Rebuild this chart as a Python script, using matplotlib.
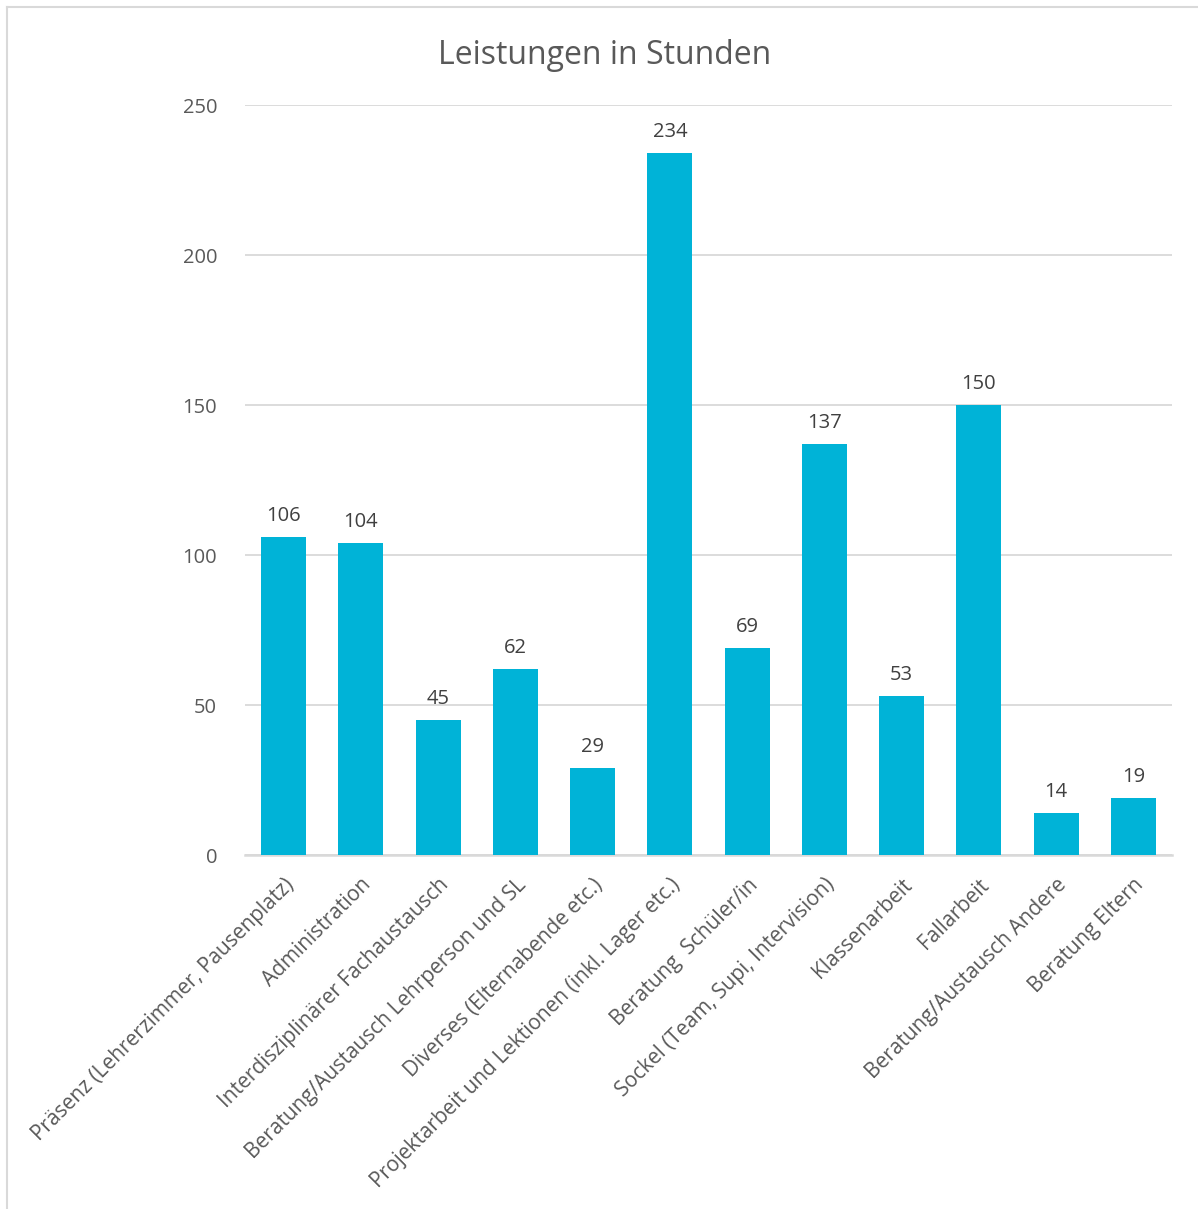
import matplotlib.pyplot as plt
from matplotlib.lines import Line2D
import numpy as np

plt.rcParams['font.family'] = ['Open Sans', 'DejaVu Sans']

categories = [
    "Präsenz (Lehrerzimmer, Pausenplatz)",
    "Administration",
    "Interdisziplinärer Fachaustausch",
    "Beratung/Austausch Lehrperson und SL",
    "Diverses (Elternabende etc.)",
    "Projektarbeit und Lektionen (inkl. Lager etc.)",
    "Beratung  Schüler/in",
    "Sockel (Team, Supi, Intervision)",
    "Klassenarbeit",
    "Fallarbeit",
    "Beratung/Austausch Andere",
    "Beratung Eltern",
]
hours = [106, 104, 45, 62, 29, 234, 69, 137, 53, 150, 14, 19]
y_ticks = [0, 50, 100, 150, 200, 250]

BAR = "#00B3D7"
TEXT = "#595959"
GRID = "#D9D9D9"

fig = plt.figure(figsize=(11.98, 12.09), dpi=100)
ax = fig.add_axes([0.2045, 0.2928, 0.7738, 0.6203])

x = np.arange(len(categories))
bars = ax.bar(x, hours, width=0.58, color=BAR, zorder=3)

for b, v in zip(bars, hours):
    ax.annotate(str(v), (b.get_x() + b.get_width() / 2, v),
                xytext=(0, 8), textcoords="offset points",
                ha="center", va="bottom", fontsize=14.5, color="#404040")

ax.set_xlim(-0.5, len(categories) - 0.5)
ax.set_ylim(0, 250)
ax.set_yticks(y_ticks)
ax.yaxis.grid(True, color=GRID, linewidth=1.3, zorder=0)
ax.set_axisbelow(True)

for s in ["top", "right", "left"]:
    ax.spines[s].set_visible(False)
ax.spines["bottom"].set_color(GRID)
ax.spines["bottom"].set_linewidth(1.8)

ax.tick_params(axis="y", length=0, pad=20, labelsize=14.5, labelcolor=TEXT)
ax.tick_params(axis="x", length=0, pad=14)
ax.set_xticks(x)
ax.set_xticklabels(categories, rotation=45, ha="right", rotation_mode="anchor",
                   fontsize=15, color=TEXT)

fig.text(0.505, 0.954, "Leistungen in Stunden", ha="center", va="center",
         fontsize=23, color=TEXT)

# thin chart frame along top and left
fig.add_artist(Line2D([0.0058, 1.0], [0.9942, 0.9942], color=GRID, linewidth=1.5))
fig.add_artist(Line2D([0.0058, 0.0058], [0.0, 0.9942], color=GRID, linewidth=1.5))

fig.savefig("out.png", dpi=100)
